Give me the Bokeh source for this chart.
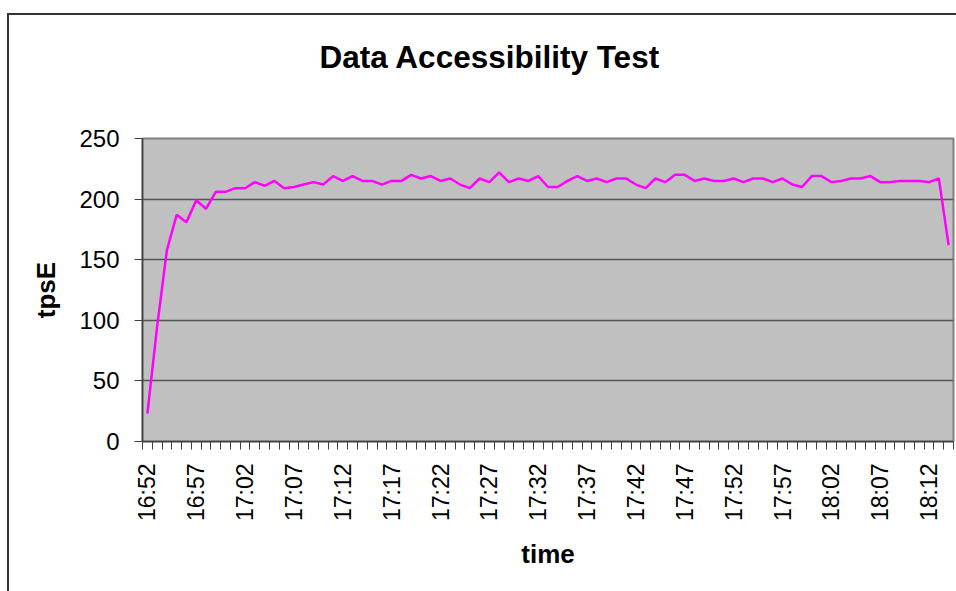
import math
from bokeh.plotting import figure
from bokeh.models import Range1d, FixedTicker, InlineStyleSheet
from bokeh.embed import file_html
from bokeh.resources import INLINE

# categories: one per minute from 16:52 to 18:14
times = [f"{16 + (52 + i) // 60}:{(52 + i) % 60:02d}" for i in range(83)]
tick_labels = ["16:52", "16:57", "17:02", "17:07", "17:12", "17:17", "17:22", "17:27", "17:32",
               "17:37", "17:42", "17:47", "17:52", "17:57", "18:02", "18:07", "18:12"]
tpsE = [23, 95, 158, 187, 181, 199, 192, 206, 206, 209,
        209, 214, 211, 215, 209, 210, 212, 214, 212, 219,
        215, 219, 215, 215, 212, 215, 215, 220, 217, 219,
        215, 217, 212, 209, 217, 214, 222, 214, 217, 215,
        219, 210, 210, 215, 219, 215, 217, 214, 217, 217,
        212, 209, 217, 214, 220, 220, 215, 217, 215, 215,
        217, 214, 217, 217, 214, 217, 212, 210, 219, 219,
        214, 215, 217, 217, 219, 214, 214, 215, 215, 215,
        214, 217, 162]
y_ticks = [0, 50, 100, 150, 200, 250]
chart_title = "Data Accessibility Test"

idx = list(range(len(times)))
label_idx = [times.index(t) for t in tick_labels]

FONT = "Liberation Sans"

p = figure(width=956, height=586,
           x_range=Range1d(-0.5, len(times) - 0.5), y_range=Range1d(0, 250),
           output_backend="svg", toolbar_location=None,
           min_border_left=142, min_border_right=3, min_border_top=138, min_border_bottom=145,
           background_fill_color="#C0C0C0", border_fill_color="white",
           outline_line_color="#808080", outline_line_width=2,
           title=chart_title + "\n ")
# outer chart-area frame (left and top edges visible, as in the reference)
p.stylesheets = [InlineStyleSheet(css=(
    ":host::after { content: ''; position: absolute; left: 7px; top: 13px; right: 0; bottom: -5px;"
    " border-left: 2px solid #333333; border-top: 2px solid #333333; pointer-events: none; }"))]

p.title.text_font = FONT
p.title.text_font_size = "31.5px"
p.title.text_font_style = "bold"
p.title.text_color = "black"
p.title.align = "left"
p.title.offset = 177
p.title.standoff = 55

p.line(idx, tpsE, line_color="#FF00FF", line_width=2.5)

# x axis
xa = p.xaxis[0]
xa.ticker = FixedTicker(ticks=label_idx, minor_ticks=[i - 0.5 for i in range(len(times) + 1)])
xa.major_label_overrides = {i: times[i] for i in label_idx}
xa.major_label_orientation = math.pi / 2
xa.major_label_text_font = FONT
xa.major_label_text_font_size = "23px"
xa.major_label_text_color = "black"
xa.major_tick_line_color = None
xa.major_tick_out = 8
xa.major_tick_in = 0
xa.minor_tick_out = 8
xa.minor_tick_in = 0
xa.minor_tick_line_color = "#404040"
xa.axis_line_color = "#404040"
xa.axis_line_width = 1.5
xa.major_label_standoff = 14
xa.axis_label = "time"
xa.axis_label_text_font = FONT
xa.axis_label_text_font_size = "26px"
xa.axis_label_text_font_style = "bold"
xa.axis_label_text_color = "black"
xa.axis_label_standoff = 15

# y axis
ya = p.yaxis[0]
ya.ticker = FixedTicker(ticks=y_ticks)
ya.major_label_text_font = FONT
ya.major_label_text_font_size = "24px"
ya.major_label_text_color = "black"
ya.major_tick_out = 8
ya.major_tick_in = 0
ya.major_tick_line_color = "#404040"
ya.minor_tick_line_color = None
ya.axis_line_color = "#404040"
ya.axis_line_width = 1.5
ya.major_label_standoff = 15
ya.axis_label = "tpsE"
ya.axis_label_text_font = FONT
ya.axis_label_text_font_size = "26px"
ya.axis_label_text_font_style = "bold"
ya.axis_label_text_color = "black"
ya.axis_label_standoff = 15

p.xgrid.visible = False
p.ygrid.grid_line_color = "#555555"
p.ygrid.grid_line_width = 1.5

open("out.html", "w").write(file_html(p, INLINE))
